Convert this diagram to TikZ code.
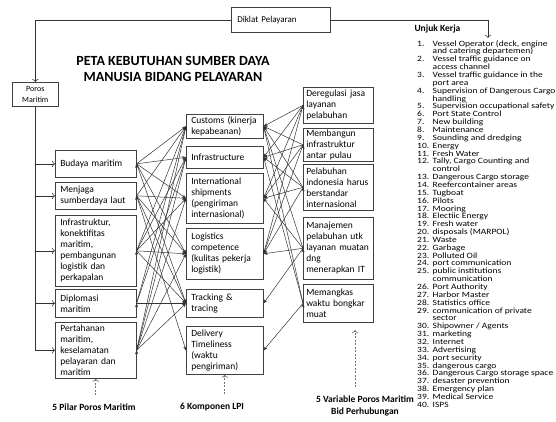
\documentclass[tikz,border=0pt]{standalone}
\usepackage{fontspec}
\setmainfont{Carlito}
\usetikzlibrary{arrows.meta}
\newcommand{\knum}[1]{\makebox[15.5pt][l]{#1}}
\newcommand{\kcont}{\hspace*{15.5pt}}
\newcommand{\tightlines}{\fontsize{9.5}{9.24}\selectfont\lineskiplimit=-20pt\relax\lineskip=0pt\relax}

\begin{document}
\begin{tikzpicture}[x=1pt,y=-1pt,
  box/.style={draw=black!75, line width=0.6pt, anchor=north west, align=left,
    inner xsep=5pt, inner ysep=1pt, font=\fontsize{9.5}{11}\selectfont},
  pillar/.style={box, text width=71pt},
  component/.style={box, text width=67pt},
  varbox/.style={box, text width=64pt, inner xsep=3pt},
  link/.style={draw=black!80, line width=0.5pt, -{Stealth[length=4pt,width=3.2pt]}},
  branch/.style={draw=black!80, line width=0.6pt, ->},
  hint/.style={draw=black!55, line width=0.7pt, dash pattern=on 2pt off 1.5pt, shorten <=5pt, ->},
  groupname/.style={font=\bfseries\fontsize{9.5}{12}\selectfont, align=center}]
\useasboundingbox (0,0) rectangle (556,421);
% Top
\node[box, text width=87pt, inner xsep=6pt, minimum height=25pt, font=\fontsize{9}{11}\selectfont] (diklat) at (231,7) {Diklat Pelayaran};
\node[box, align=center, text width=38pt, inner xsep=4pt, minimum height=24pt, font=\fontsize{8}{11}\selectfont] (poros) at (12,82) {Poros\\Maritim};
\node[font=\bfseries\fontsize{14}{16}\selectfont, align=center] (title) at (173,69) {PETA KEBUTUHAN SUMBER DAYA\\MANUSIA BIDANG PELAYARAN};
\node[font=\bfseries\fontsize{9.5}{11}\selectfont, anchor=west] (unjuk) at (411,29) {Unjuk Kerja};
\coordinate (listtop) at (488,38);
\draw[branch] (diklat.west) -| (poros.north);
\draw[branch] (diklat.east) -| (listtop);
% Pilar
\node[pillar, minimum height=27pt] (budaya) at (55,150) {Budaya maritim};
\node[pillar, minimum height=27pt] (menjaga) at (55,182) {Menjaga\\sumberdaya laut};
\node[pillar, minimum height=71pt] (infra) at (55,215) {Infrastruktur,\\konektifitas\\maritim,\\pembangunan\\logistik dan\\perkapalan};
\node[pillar, minimum height=28pt] (diplomasi) at (55,289) {Diplomasi\\maritim};
\node[pillar, minimum height=56pt] (pertahanan) at (55,322) {Pertahanan\\maritim,\\keselamatan\\pelayaran dan\\maritim};
\draw[branch] (poros.south) |- (budaya.west);
\draw[branch] (poros.south) |- (menjaga.west);
\draw[branch] (poros.south) |- (infra.west);
\draw[branch] (poros.south) |- (diplomasi.west);
\draw[branch] (poros.south) |- (pertahanan.west);
% Komponen LPI
\node[component, minimum height=24pt] (customs) at (186,114) {Customs (kinerja\\kepabeanan)};
\node[component, minimum height=22pt] (infrastructure) at (186,146) {Infrastructure};
\node[component, minimum height=50pt] (shipments) at (186,173) {International\\shipments\\(pengiriman\\internasional)};
\node[component, minimum height=51pt] (logistics) at (186,228) {Logistics\\competence\\(kulitas pekerja\\logistik)};
\node[component, minimum height=28pt] (tracking) at (186,289) {Tracking \&\\tracing};
\node[component, minimum height=48pt] (delivery) at (186,326) {Delivery\\Timeliness\\(waktu\\pengiriman)};
% Variable
\node[varbox, minimum height=36pt] (deregulasi) at (303,87) {Deregulasi jasa\\layanan\\pelabuhan};
\node[varbox, minimum height=33pt] (membangun) at (303,128) {Membangun\\infrastruktur\\antar pulau};
\node[varbox, minimum height=46pt] (pelabuhan) at (303,164) {Pelabuhan\\indonesia harus\\berstandar\\internasional};
\node[varbox, minimum height=62pt] (manajemen) at (303,217) {Manajemen\\pelabuhan utk\\layanan muatan\\dng\\menerapkan IT};
\node[varbox, minimum height=38pt] (memangkas) at (303,284) {Memangkas\\waktu bongkar\\muat};
% Links
\draw[link] (budaya.east) edge (customs.west) edge (infrastructure.west) edge (shipments.west) edge (logistics.west) edge (tracking.west);
\draw[link] (menjaga.east) edge (customs.west) edge (shipments.west) edge (logistics.west) edge (tracking.west) edge (delivery.west);
\draw[link] (infra.east) edge (customs.west) edge (infrastructure.west) edge (shipments.west) edge (logistics.west) edge (tracking.west);
\draw[link] (diplomasi.east) edge (customs.west) edge (infrastructure.west) edge (tracking.west);
\draw[link] (pertahanan.east) edge (customs.west) edge (infrastructure.west) edge (shipments.west) edge (logistics.west) edge (tracking.west);
\draw[link] (deregulasi.west) edge (customs.east) edge (infrastructure.east) edge (shipments.east) edge (logistics.east);
\draw[link] (membangun.west) edge (customs.east) edge (infrastructure.east) edge (shipments.east) edge (logistics.east);
\draw[link] (pelabuhan.west) edge (customs.east) edge (infrastructure.east) edge (shipments.east) edge (logistics.east);
\draw[link] (manajemen.west) edge (customs.east) edge (shipments.east) edge (logistics.east) edge (tracking.east);
\draw[link] (memangkas.west) edge (customs.east) edge (infrastructure.east) edge (delivery.east);
% Labels
\node[groupname] (pilar) at (94,407) {5 Pilar Poros Maritim};
\node[groupname] (lpi) at (212,407) {6 Komponen LPI};
\node[groupname] (variabel) at (365,406) {5 Variable Poros Maritim\\Bid Perhubungan};
\coordinate (vartip) at (355,330);
\draw[hint] (pertahanan.south |- pilar.north) -- (pertahanan.south);
\draw[hint] (delivery.south |- lpi.north) -- (delivery.south);
\draw[hint] (vartip |- variabel.north) -- (vartip);
% Unjuk Kerja
\begin{scope}[shift={(417,40)}, yscale=0.85]
\node[anchor=north west, inner sep=0pt, align=left, font=\tightlines, transform shape] (kerja) at (0,0) {%
\knum{1.}Vessel Operator (deck, engine\\\kcont and catering departemen)\\
\knum{2.}Vessel traffic guidance on\\\kcont access channel\\
\knum{3.}Vessel traffic guidance in the\\\kcont port area\\
\knum{4.}Supervision of Dangerous Cargo\\\kcont handling\\
\knum{5.}Supervision occupational safety\\
\knum{6.}Port State Control\\
\knum{7.}New building\\
\knum{8.}Maintenance\\
\knum{9.}Sounding and dredging\\
\knum{10.}Energy\\
\knum{11.}Fresh Water\\
\knum{12.}Tally, Cargo Counting and\\\kcont control\\
\knum{13.}Dangerous Cargo storage\\
\knum{14.}Reefercontainer areas\\
\knum{15.}Tugboat\\
\knum{16.}Pilots\\
\knum{17.}Mooring\\
\knum{18.}Electiic Energy\\
\knum{19.}Fresh water\\
\knum{20.}disposals (MARPOL)\\
\knum{21.}Waste\\
\knum{22.}Garbage\\
\knum{23.}Polluted Oil\\
\knum{24.}port communication\\
\knum{25.}public institutions\\\kcont communication\\
\knum{26.}Port Authority\\
\knum{27.}Harbor Master\\
\knum{28.}Statistics office\\
\knum{29.}communication of private\\\kcont sector\\
\knum{30.}Shipowner / Agents\\
\knum{31.}marketing\\
\knum{32.}Internet\\
\knum{33.}Advertising\\
\knum{34.}port security\\
\knum{35.}dangerous cargo\\
\knum{36.}Dangerous Cargo storage space\\
\knum{37.}desaster prevention\\
\knum{38.}Emergency plan\\
\knum{39.}Medical Service\\
\knum{40.}ISPS};
\end{scope}
\end{tikzpicture}
\end{document}
